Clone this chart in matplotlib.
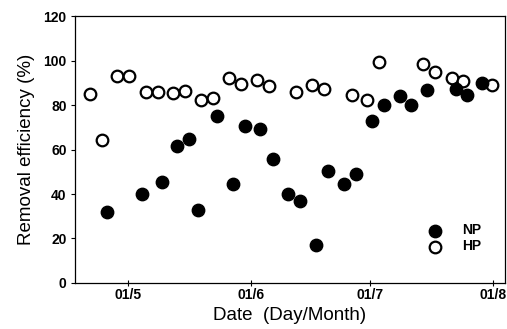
import matplotlib
matplotlib.use("Agg")
import matplotlib.pyplot as plt

# days counted from 1 May
np_days = [-5.3, 3.6, 8.6, 12.5, 15.5, 17.6, 22.4, 26.6, 29.5, 33.4, 36.5,
           40.5, 43.5, 47.5, 50.6, 54.5, 57.6, 61.5, 64.6, 68.6, 71.5, 75.5,
           82.7, 85.6, 89.4]
np_eff = [31.9, 39.9, 45.4, 61.6, 64.6, 32.7, 75.2, 44.5, 70.6, 69.4, 55.6,
          39.9, 37.0, 17.2, 50.5, 44.6, 49.1, 72.9, 79.9, 84.0, 79.9, 86.6,
          87.0, 84.4, 89.7]

hp_days = [-9.5, -6.6, -2.6, 0.4, 4.5, 7.5, 11.5, 14.4, 18.5, 21.5, 25.5,
           28.5, 32.5, 35.5, 42.4, 46.5, 49.4, 56.5, 60.4, 63.3, 74.4, 77.5,
           81.7, 84.6, 91.8]
hp_eff = [84.9, 64.1, 93.0, 93.0, 85.7, 86.0, 85.5, 86.2, 82.2, 83.3, 92.3,
          89.4, 91.2, 88.4, 85.8, 89.0, 87.0, 84.6, 82.2, 99.3, 98.3, 95.0,
          92.0, 90.8, 89.0]

tick_days = [0, 31, 61, 92]
tick_labels = ["01/5", "01/6", "01/7", "01/8"]

plt.rcParams['font.family'] = ['Liberation Sans', 'DejaVu Sans']

fig = plt.figure(figsize=(5.07, 3.29), dpi=100)
ax = fig.add_axes([0.148, 0.140, 0.848, 0.811])

ax.scatter(np_days, np_eff, s=80, c='black', edgecolors='black', linewidths=1.0,
           label='NP', zorder=3)
ax.scatter(hp_days, hp_eff, s=70, facecolors='white', edgecolors='black',
           linewidths=1.6, label='HP', zorder=2)

ax.set_xlim(-13.3, 95.1)
ax.set_ylim(0, 120)
ax.set_xticks(tick_days)
ax.set_xticklabels(tick_labels, fontweight='bold', fontsize=10)
ax.set_yticks(range(0, 121, 20))
ax.set_yticklabels([str(v) for v in range(0, 121, 20)], fontweight='bold', fontsize=10)
ax.tick_params(axis='x', direction='inout', length=4, width=0.8, pad=2)
ax.tick_params(axis='y', direction='out', length=3, width=0.8, pad=3)
for sp in ax.spines.values():
    sp.set_linewidth(0.9)

ax.set_xlabel('Date  (Day/Month)', fontsize=13.5, labelpad=3)
ax.set_ylabel('Removal efficiency (%)', fontsize=13.5, labelpad=6)

leg = ax.legend(loc='lower right', bbox_to_anchor=(0.965, 0.08), frameon=False,
                prop={'weight': 'bold', 'size': 10}, handletextpad=1.0,
                labelspacing=0.15, borderaxespad=0.2)

fig.savefig('out.png', dpi=100)
